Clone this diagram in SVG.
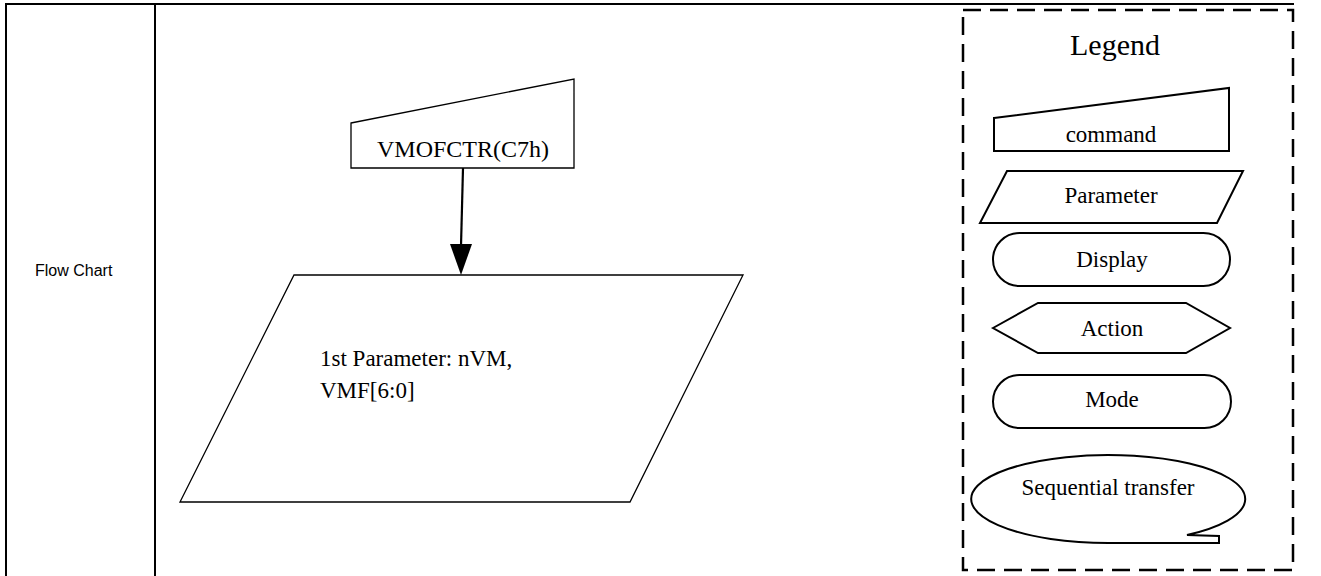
<svg xmlns="http://www.w3.org/2000/svg" width="1321" height="576" viewBox="0 0 1321 576">
<style>
  .frame { stroke:#000; stroke-width:2; fill:none; }
  .shape { stroke:#000; stroke-width:1.3; fill:#fff; }
  .lshape { stroke:#000; stroke-width:2; fill:#fff; }
  .t { font-family:"Liberation Serif","Times New Roman",serif; font-size:23px; fill:#000; }
  .tc { text-anchor:middle; }
  .sans { font-family:"Liberation Sans",Arial,sans-serif; font-size:16px; fill:#000; }
</style>
<rect width="1321" height="576" fill="#fff"/>
<g id="table">
  <line class="frame" x1="6" y1="4" x2="1294" y2="4"/>
  <line class="frame" x1="6" y1="3" x2="6" y2="576"/>
  <line class="frame" x1="155" y1="3" x2="155" y2="576"/>
  <text class="sans" x="35" y="276">Flow Chart</text>
</g>
<g id="legend-frame">
  <rect x="963" y="10" width="330" height="560" fill="none" stroke="#000" stroke-width="2.5" stroke-dasharray="18 9"/>
  <text class="t tc" x="1115" y="55" style="font-size:30px">Legend</text>
</g>
<g id="node-command">
  <polygon class="shape" points="351,123 574,79 574,168 351,168"/>
  <text class="t tc" x="463" y="157" style="font-size:24px">VMOFCTR(C7h)</text>
</g>
<g id="node-parameter">
  <polygon class="shape" points="294,275 743,275 630,502 180,502"/>
  <text class="t" x="320" y="366">1st Parameter: nVM,</text>
  <text class="t" x="320" y="398">VMF[6:0]</text>
</g>
<g id="connectors">
  <line x1="463" y1="168" x2="461" y2="246" stroke="#000" stroke-width="2.2"/>
  <polygon points="450,244 472,244 461,275" fill="#000"/>
</g>
<g id="legend-command">
  <polygon class="lshape" points="994,118 1229,88 1229,151 994,151"/>
  <text class="t tc" x="1111" y="142">command</text>
</g>
<g id="legend-parameter">
  <polygon class="lshape" points="1007,171 1243,171 1217,223 980,223"/>
  <text class="t tc" x="1111" y="203">Parameter</text>
</g>
<g id="legend-display">
  <rect class="lshape" x="993" y="233" width="237" height="53" rx="26.5" ry="26.5"/>
  <text class="t tc" x="1112" y="267">Display</text>
</g>
<g id="legend-action">
  <polygon class="lshape" points="993,328 1038,303 1186,303 1230,328 1186,353 1038,353"/>
  <text class="t tc" x="1112" y="336">Action</text>
</g>
<g id="legend-mode">
  <rect class="lshape" x="993" y="375" width="238" height="53" rx="26.5" ry="26.5"/>
  <text class="t tc" x="1112" y="407">Mode</text>
</g>
<g id="legend-sequential">
  <path class="lshape" d="M 1110 543 A 137 44 0 1 1 1187 535 L 1219 536 L 1219 543 Z"/>
  <text class="t tc" x="1108" y="495">Sequential transfer</text>
</g>
</svg>
